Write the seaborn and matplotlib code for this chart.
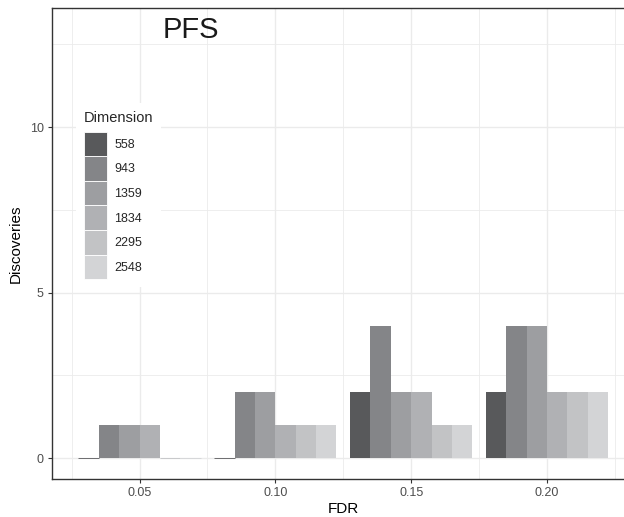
import matplotlib
matplotlib.use("Agg")
import matplotlib.pyplot as plt
import seaborn as sns
import pandas as pd
from matplotlib.ticker import FixedLocator

fdr = [0.05, 0.10, 0.15, 0.20]
dimensions = ["558", "943", "1359", "1834", "2295", "2548"]
disc_558 = [0, 0, 2, 2]
disc_943 = [1, 2, 4, 4]
disc_1359 = [1, 2, 2, 4]
disc_1834 = [1, 1, 2, 2]
disc_2295 = [0, 1, 1, 2]
disc_2548 = [0, 1, 1, 2]
x_tick_labels = ["0.05", "0.10", "0.15", "0.20"]
palette = ["#58595b", "#848588", "#9d9ea1", "#b0b1b4", "#c2c3c5", "#d3d4d6"]

series = [disc_558, disc_943, disc_1359, disc_1834, disc_2295, disc_2548]
rows = []
for d, vals in zip(dimensions, series):
    for f, v in zip(fdr, vals):
        rows.append({"FDR": f, "Discoveries": v, "Dimension": d})
df = pd.DataFrame(rows)

sns.set_style("white")
plt.rcParams['font.family'] = ['Liberation Sans', 'DejaVu Sans']

W, H = 624, 517
fig = plt.figure(figsize=(W / 100, H / 100), dpi=100)
ax = fig.add_axes([52 / W, (H - 479) / H, (634.5 - 52) / W, (479 - 8) / H])

sns.barplot(data=df, x="FDR", y="Discoveries", hue="Dimension",
            hue_order=dimensions, palette=palette, native_scale=True,
            width=0.9, saturation=1, errorbar=None, ax=ax,
            edgecolor=None, linewidth=0)

# faint lines for zero-height bars (like ggplot)
for p in ax.patches:
    if p.get_height() == 0:
        p.set_edgecolor(p.get_facecolor())
        p.set_linewidth(0.6)

ax.set_xlim(0.01775, 0.23225)
ax.set_ylim(-0.63, 13.6)
ax.xaxis.set_major_locator(FixedLocator(fdr))
ax.set_xticklabels(x_tick_labels)
ax.xaxis.set_minor_locator(FixedLocator([0.025, 0.075, 0.125, 0.175, 0.225]))
ax.yaxis.set_major_locator(FixedLocator([0, 5, 10]))
ax.yaxis.set_minor_locator(FixedLocator([2.5, 7.5, 12.5]))
ax.grid(True, which="major", color="#ebebeb", linewidth=1.0, zorder=0)
ax.grid(True, which="minor", color="#ebebeb", linewidth=0.6, zorder=0)
ax.set_axisbelow(True)
for s in ax.spines.values():
    s.set_color("#333333")
    s.set_linewidth(1.0)
    s.set_visible(True)
ax.tick_params(axis="both", which="major", length=3, width=0.8, color="#333333",
               labelsize=9, labelcolor="#4d4d4d", pad=3, bottom=True, left=True)
ax.tick_params(axis="both", which="minor", length=0)
ax.set_xlabel("FDR", fontsize=11, color="black", labelpad=2)
ax.set_ylabel("Discoveries", fontsize=11, color="black", labelpad=5)

ax.text(0.069, 12.93, "PFS", fontsize=21, ha="center", va="center", color="#1a1a1a")

leg = ax.legend(title="Dimension", loc="upper left",
                bbox_to_anchor=(70 / W, 1 - 97 / H), bbox_transform=fig.transFigure,
                frameon=True, fancybox=False, framealpha=1, edgecolor="white",
                fontsize=9, title_fontsize=10.5, handlelength=1.85, handleheight=2.65,
                labelspacing=0.0, handletextpad=0.6, borderpad=0.6, alignment="left")
leg.get_frame().set_linewidth(0)
leg._legend_handle_box.sep = 0
leg.get_children()[0].sep = 5
for h in leg.legend_handles:
    h.set_edgecolor("white")
    h.set_linewidth(0.6)

fig.savefig("out.png", dpi=100)
